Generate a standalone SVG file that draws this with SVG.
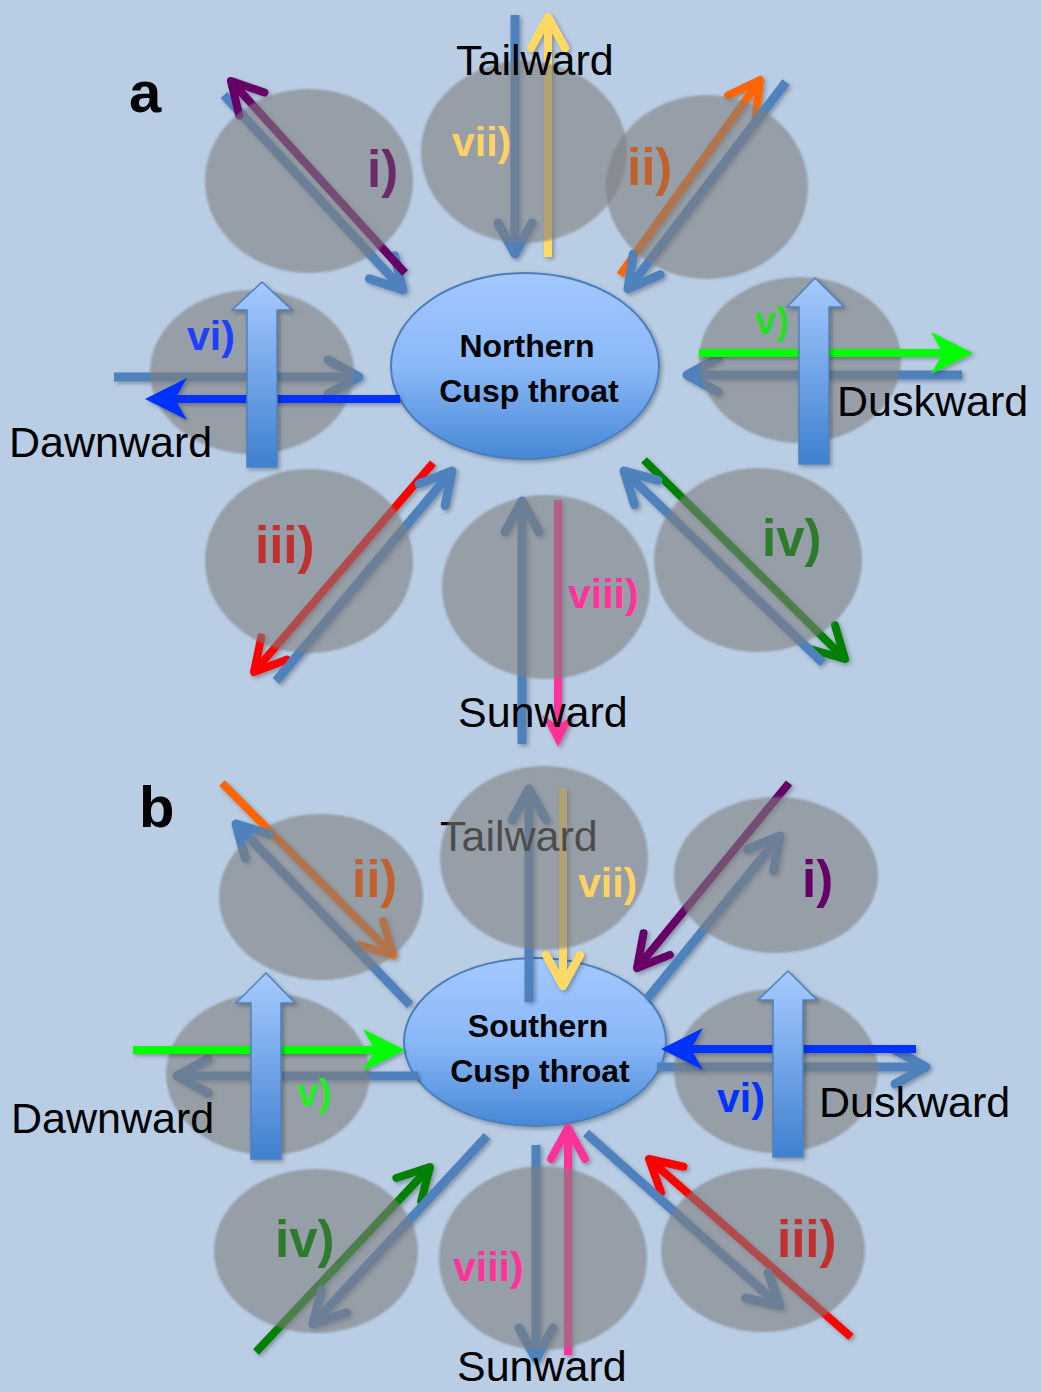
<svg xmlns="http://www.w3.org/2000/svg" width="1041" height="1392" viewBox="0 0 1041 1392">
  <defs>
    <style>
      .bg { fill: #b9cde5; }
      .cell { fill: #7f7f7f; fill-opacity: 0.6; }
      .throat { fill: url(#throatGrad); stroke: #4a7ebb; stroke-width: 2; }
      .block { fill: url(#blockGrad); stroke: #4f81bd; stroke-width: 1.5; }
      .ln { fill: none; stroke-linecap: butt; }
      .steel { stroke: #4f81bd; stroke-width: 9; marker-end: url(#hSteel); }
      .purple { stroke: #660066; stroke-width: 8; marker-end: url(#hPurple); }
      .yellow { stroke: #ffd966; stroke-width: 8; marker-end: url(#hYellow); }
      .orange { stroke: #ff6600; stroke-width: 8; marker-end: url(#hOrange); }
      .red { stroke: #ff0000; stroke-width: 8; marker-end: url(#hRed); }
      .green { stroke: #008000; stroke-width: 8; marker-end: url(#hGreen); }
      .pink { stroke: #ff3399; stroke-width: 8; marker-end: url(#hPink); }
      .pinkS { stroke: #ff3399; stroke-width: 8; marker-end: url(#sPink); }
      .bblue { stroke: #0033ff; stroke-width: 8; marker-end: url(#sBlue); }
      .bgreen { stroke: #00ff00; stroke-width: 8; marker-end: url(#sGreen); }
      .dir { font-family: "Liberation Sans", Arial, sans-serif; font-size: 43px; fill: #000; }
      .panel { font-family: "Liberation Sans", Arial, sans-serif; font-size: 58px; font-weight: bold; fill: #000; }
      .core { font-family: "Liberation Sans", Arial, sans-serif; font-size: 32px; font-weight: bold; fill: #000; text-anchor: middle; }
      .lab { font-family: "Liberation Sans", Arial, sans-serif; font-weight: bold; }
      .big { font-size: 51px; }
      .small { font-size: 41px; }
    </style>
    <linearGradient id="throatGrad" x1="0" y1="0" x2="0" y2="1">
      <stop offset="0" stop-color="#a3c8ff"/>
      <stop offset="0.5" stop-color="#8ab8f8"/>
      <stop offset="1" stop-color="#4688d6"/>
    </linearGradient>
    <linearGradient id="blockGrad" x1="0" y1="0" x2="0" y2="1">
      <stop offset="0" stop-color="#a6cbff"/>
      <stop offset="1" stop-color="#3f80d0"/>
    </linearGradient>
    <filter id="shadow" x="-20%" y="-20%" width="140%" height="140%">
      <feDropShadow dx="2" dy="2" stdDeviation="2" flood-color="#000" flood-opacity="0.3"/>
    </filter>
    <filter id="soft" x="-10%" y="-10%" width="120%" height="120%">
      <feGaussianBlur stdDeviation="1.3"/>
    </filter>
    <!-- open chevron heads -->
    <marker id="hSteel" markerUnits="userSpaceOnUse" orient="auto" overflow="visible" markerWidth="1" markerHeight="1">
      <path d="M-31,-17 L0,0 L-31,17" fill="none" stroke="#4f81bd" stroke-width="9" stroke-linecap="round" stroke-linejoin="round"/>
    </marker>
    <marker id="hPurple" markerUnits="userSpaceOnUse" orient="auto" overflow="visible" markerWidth="1" markerHeight="1">
      <path d="M-31,-17 L0,0 L-31,17" fill="none" stroke="#660066" stroke-width="8" stroke-linecap="round" stroke-linejoin="round"/>
    </marker>
    <marker id="hYellow" markerUnits="userSpaceOnUse" orient="auto" overflow="visible" markerWidth="1" markerHeight="1">
      <path d="M-31,-17 L0,0 L-31,17" fill="none" stroke="#ffd966" stroke-width="8" stroke-linecap="round" stroke-linejoin="round"/>
    </marker>
    <marker id="hOrange" markerUnits="userSpaceOnUse" orient="auto" overflow="visible" markerWidth="1" markerHeight="1">
      <path d="M-31,-17 L0,0 L-31,17" fill="none" stroke="#ff6600" stroke-width="8" stroke-linecap="round" stroke-linejoin="round"/>
    </marker>
    <marker id="hRed" markerUnits="userSpaceOnUse" orient="auto" overflow="visible" markerWidth="1" markerHeight="1">
      <path d="M-31,-17 L0,0 L-31,17" fill="none" stroke="#ff0000" stroke-width="8" stroke-linecap="round" stroke-linejoin="round"/>
    </marker>
    <marker id="hGreen" markerUnits="userSpaceOnUse" orient="auto" overflow="visible" markerWidth="1" markerHeight="1">
      <path d="M-31,-17 L0,0 L-31,17" fill="none" stroke="#008000" stroke-width="8" stroke-linecap="round" stroke-linejoin="round"/>
    </marker>
    <marker id="hPink" markerUnits="userSpaceOnUse" orient="auto" overflow="visible" markerWidth="1" markerHeight="1">
      <path d="M-31,-17 L0,0 L-31,17" fill="none" stroke="#ff3399" stroke-width="8" stroke-linecap="round" stroke-linejoin="round"/>
    </marker>
    <!-- filled stealth heads; the line ends at the notch -->
    <marker id="sBlue" markerUnits="userSpaceOnUse" orient="auto" overflow="visible" markerWidth="1" markerHeight="1">
      <path d="M30,0 L-12,-21 L0,0 L-12,21 Z" fill="#0033ff"/>
    </marker>
    <marker id="sGreen" markerUnits="userSpaceOnUse" orient="auto" overflow="visible" markerWidth="1" markerHeight="1">
      <path d="M30,0 L-12,-21 L0,0 L-12,21 Z" fill="#00ff00"/>
    </marker>
    <marker id="sPink" markerUnits="userSpaceOnUse" orient="auto" overflow="visible" markerWidth="1" markerHeight="1">
      <path d="M22,0 L-10,-16 L0,0 L-10,16 Z" fill="#ff3399"/>
    </marker>
  </defs>

  <rect class="bg" x="0" y="0" width="1041" height="1392"/>

  <!-- cusp throats -->
  <g id="north-throat" filter="url(#shadow)">
    <ellipse class="throat" cx="525" cy="366" rx="134" ry="93"/>
  </g>
  <g id="south-throat" filter="url(#shadow)">
    <ellipse class="throat" cx="535" cy="1042" rx="131" ry="84"/>
  </g>

  <!-- flow arrows that pass beneath the cells -->
  <g id="connectors" filter="url(#shadow)">
    <!-- panel a -->
    <path class="ln steel" d="M224,95 L403,290"/>
    <path class="ln purple" d="M405,273 L231,81"/>
    <path class="ln steel" d="M515,15 L515,254"/>
    <path class="ln yellow" d="M548,257 L548,17"/>
    <path class="ln orange" d="M620,275 L760,80"/>
    <path class="ln steel" d="M786,82 L628,289"/>
    <path class="ln steel" d="M114,377 L359,377"/>
    <path class="ln steel" d="M962,375 L687,375"/>
    <path class="ln red" d="M433,463 L254,672"/>
    <path class="ln steel" d="M276,681 L452,471"/>
    <path class="ln steel" d="M522,744 L522,501"/>
    <path class="ln pinkS" d="M558,500 L558,725"/>
    <path class="ln green" d="M644,460 L845,659"/>
    <path class="ln steel" d="M823,663 L624,471"/>
    <!-- panel b -->
    <path class="ln orange" d="M222,783 L393,955"/>
    <path class="ln steel" d="M410,1005 L236,824"/>
    <path class="ln steel" d="M529,1002 L529,789"/>
    <path class="ln yellow" d="M563,788 L563,986"/>
    <path class="ln purple" d="M789,783 L637,968"/>
    <path class="ln steel" d="M647,999 L780,836"/>
    <path class="ln steel" d="M418,1076 L177,1076"/>
    <path class="ln steel" d="M657,1067 L926,1067"/>
    <path class="ln green" d="M256,1352 L430,1167"/>
    <path class="ln steel" d="M487,1136 L313,1324"/>
    <path class="ln steel" d="M536,1145 L536,1359"/>
    <path class="ln pink" d="M568,1355 L568,1128"/>
    <path class="ln red" d="M851,1337 L649,1159"/>
    <path class="ln steel" d="M586,1133 L780,1306"/>
  </g>

  <!-- label sitting beneath the cells of panel b -->
  <text class="dir" x="440" y="851">Tailward</text>

  <!-- cells -->
  <g id="cells" filter="url(#soft)">
    <ellipse id="cell-a-i" class="cell" cx="309" cy="181" rx="104" ry="92"/>
    <ellipse id="cell-a-vii" class="cell" cx="524" cy="152" rx="103" ry="91"/>
    <ellipse id="cell-a-ii" class="cell" cx="707" cy="187" rx="101" ry="92"/>
    <ellipse id="cell-a-vi" class="cell" cx="252" cy="372" rx="102" ry="82"/>
    <ellipse id="cell-a-v" class="cell" cx="800" cy="360" rx="101" ry="83"/>
    <ellipse id="cell-a-iii" class="cell" cx="309" cy="561" rx="104" ry="92"/>
    <ellipse id="cell-a-viii" class="cell" cx="546" cy="587" rx="104" ry="92"/>
    <ellipse id="cell-a-iv" class="cell" cx="758" cy="560" rx="104" ry="92"/>
    <ellipse id="cell-b-ii" class="cell" cx="321" cy="897" rx="102" ry="83"/>
    <ellipse id="cell-b-vii" class="cell" cx="544" cy="858" rx="104" ry="92"/>
    <ellipse id="cell-b-i" class="cell" cx="776" cy="875" rx="102" ry="78"/>
    <ellipse id="cell-b-v" class="cell" cx="268" cy="1074" rx="102" ry="81"/>
    <ellipse id="cell-b-vi" class="cell" cx="776" cy="1071" rx="102" ry="82"/>
    <ellipse id="cell-b-iv" class="cell" cx="316" cy="1251" rx="102" ry="82"/>
    <ellipse id="cell-b-viii" class="cell" cx="543" cy="1258" rx="104" ry="92"/>
    <ellipse id="cell-b-iii" class="cell" cx="763" cy="1250" rx="102" ry="82"/>
  </g>

  <!-- east-west flows drawn over the cells -->
  <g id="connectors-over" filter="url(#shadow)">
    <path class="ln bblue" d="M400,399 L175,399"/>
    <path class="ln bgreen" d="M699,353 L943,353"/>
    <path class="ln bgreen" d="M133,1050 L375,1050"/>
    <path class="ln bblue" d="M916,1049 L691,1049"/>
  </g>

  <!-- upward block arrows -->
  <g id="block-a-vi" filter="url(#shadow)">
    <path class="block" d="M262,282 L292,310 L277,310 L277,467 L247,467 L247,310 L232,310 Z"/>
  </g>
  <g id="block-a-v" filter="url(#shadow)">
    <path class="block" d="M815,278 L844,307 L829,307 L829,464 L799,464 L799,307 L787,307 Z"/>
  </g>
  <g id="block-b-v" filter="url(#shadow)">
    <path class="block" d="M266,973 L295,1003 L281,1003 L281,1159 L251,1159 L251,1003 L236,1003 Z"/>
  </g>
  <g id="block-b-vi" filter="url(#shadow)">
    <path class="block" d="M788,971 L817,1000 L803,1000 L803,1157 L773,1157 L773,1000 L758,1000 Z"/>
  </g>

  <!-- throat labels -->
  <g id="north-label">
    <text class="core" x="527" y="357">Northern</text>
    <text class="core" x="529" y="402">Cusp throat</text>
  </g>
  <g id="south-label">
    <text class="core" x="538" y="1037">Southern</text>
    <text class="core" x="540" y="1082">Cusp throat</text>
  </g>

  <!-- panel letters and directions -->
  <text class="panel" x="129" y="112">a</text>
  <text class="panel" x="139" y="827">b</text>
  <text class="dir" x="456" y="75">Tailward</text>
  <text class="dir" x="837" y="416">Duskward</text>
  <text class="dir" x="9" y="457">Dawnward</text>
  <text class="dir" x="458" y="727">Sunward</text>
  <text class="dir" x="11" y="1133">Dawnward</text>
  <text class="dir" x="819" y="1117">Duskward</text>
  <text class="dir" x="457" y="1381">Sunward</text>

  <!-- case labels -->
  <g id="case-labels">
    <text class="lab big" x="367" y="187" fill="#6b2b66">i)</text>
    <text class="lab small" x="452" y="156" fill="#ffd265">vii)</text>
    <text class="lab big" x="627" y="185" fill="#c0622e">ii)</text>
    <text class="lab small" x="187" y="350" fill="#1f3fff">vi)</text>
    <text class="lab" font-size="38" x="755" y="334" fill="#22e022">v)</text>
    <text class="lab big" x="255" y="563" fill="#c0302f">iii)</text>
    <text class="lab small" x="568" y="608" fill="#ff3399">viii)</text>
    <text class="lab big" x="762" y="556" fill="#2e7a2e">iv)</text>

    <text class="lab big" x="352" y="897" fill="#c0622e">ii)</text>
    <text class="lab small" x="578" y="897" fill="#ffd265">vii)</text>
    <text class="lab big" x="802" y="897" fill="#660066">i)</text>
    <text class="lab" font-size="39" x="297" y="1106" fill="#22ee22">v)</text>
    <text class="lab small" x="717" y="1112" fill="#0033ff">vi)</text>
    <text class="lab big" x="275" y="1257" fill="#2e7a2e">iv)</text>
    <text class="lab small" x="453" y="1281" fill="#ff3399">viii)</text>
    <text class="lab big" x="777" y="1257" fill="#c0302f">iii)</text>
  </g>
</svg>
